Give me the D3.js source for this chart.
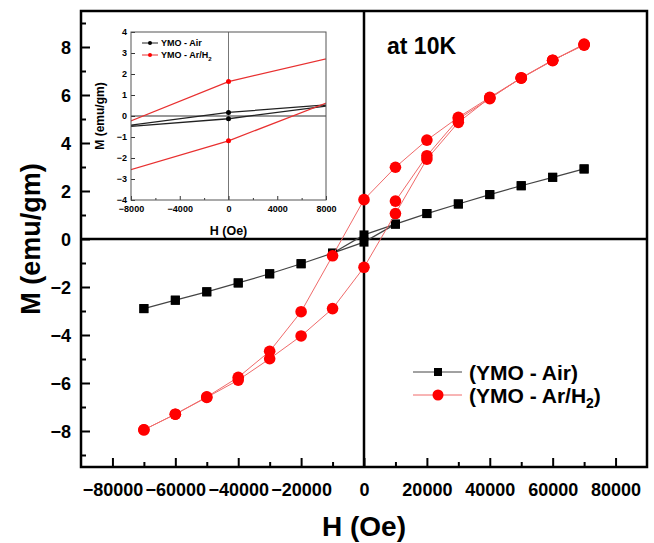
<!DOCTYPE html>
<html>
<head>
<meta charset="utf-8">
<script src="https://cdn.jsdelivr.net/npm/d3@7"></script>
<style>
  body { margin: 0; background: #fff; }
  svg text { font-family: Arial, "Liberation Sans", sans-serif; font-weight: bold; }
</style>
</head>
<body>
<div id="chart"></div>
<script>
// M-H loop data (H in Oe, M in emu/gm)
var fieldDown = [70000, 60000, 50000, 40000, 30000, 20000, 10000, 0, -10000, -20000, -30000, -40000, -50000, -60000, -70000];
var fieldUp = [-70000, -60000, -50000, -40000, -30000, -20000, -10000, 0, 10000, 20000, 30000, 40000, 50000, 60000, 70000];
var fieldVirgin = [10000, 20000, 30000, 40000, 50000, 60000, 70000];

var airDown = [2.92, 2.57, 2.22, 1.85, 1.46, 1.06, 0.62, 0.17, -0.59, -1.03, -1.45, -1.83, -2.2, -2.55, -2.9];
var airUp = [-2.9, -2.55, -2.2, -1.83, -1.45, -1.03, -0.59, -0.13, 0.62, 1.06, 1.46, 1.85, 2.22, 2.57, 2.92];

var arDown = [8.12, 7.43, 6.71, 5.9, 5.07, 4.12, 2.99, 1.64, -0.7, -3.03, -4.68, -5.76, -6.58, -7.3, -7.95];
var arUp = [-7.95, -7.3, -6.6, -5.88, -4.99, -4.04, -2.9, -1.18, 1.06, 3.33, 4.86, 5.88, 6.7, 7.45, 8.08];
var arVirgin = [1.58, 3.47, 5.0, 5.85, 6.72, 7.45, 8.1];

var xMajor = [-80000, -60000, -40000, -20000, 0, 20000, 40000, 60000, 80000];
var xMinor = [-70000, -50000, -30000, -10000, 10000, 30000, 50000, 70000];
var yMajor = [-8, -6, -4, -2, 0, 2, 4, 6, 8];
var yMinor = [-9, -7, -5, -3, -1, 1, 3, 5, 7, 9];

var insetXMajor = [-8000, -4000, 0, 4000, 8000];
var insetXMinor = [-6000, -2000, 2000, 6000];
var insetYMajor = [-4, -3, -2, -1, 0, 1, 2, 3, 4];

var seriesNames = ["(YMO - Air)", "(YMO - Ar/H", "2", ")"];

var width = 654, height = 543;
var box = {left: 81, right: 647, top: 11, bottom: 467};

var svg = d3.select("#chart").append("svg")
    .attr("width", width).attr("height", height);

var x = d3.scaleLinear().domain([-90000, 90000]).range([box.left, box.right]);
var y = d3.scaleLinear().domain([-9.5, 9.5]).range([box.bottom, box.top]);

function pts(fs, ms) { return fs.map(function (f, i) { return [f, ms[i]]; }); }

var airLoop = pts(fieldDown, airDown).concat(pts(fieldUp, airUp));
var arLoop = pts(fieldDown, arDown).concat(pts(fieldUp, arUp));
var arInit = pts(fieldVirgin, arVirgin);

// axes (ticks point inwards)
var gx = svg.append("g").attr("transform", "translate(0," + box.bottom + ")");
gx.call(d3.axisBottom(x).tickValues(xMajor).tickSize(-9).tickPadding(16).tickFormat(d3.format("d")));
gx.append("g").call(d3.axisBottom(x).tickValues(xMinor).tickSize(-5).tickFormat(""));
var gy = svg.append("g").attr("transform", "translate(" + box.left + ",0)");
gy.call(d3.axisLeft(y).tickValues(yMajor).tickSize(-9).tickPadding(10).tickFormat(d3.format("d")));
gy.append("g").call(d3.axisLeft(y).tickValues(yMinor).tickSize(-5).tickFormat(""));
svg.selectAll(".domain").remove();
svg.selectAll(".tick line").attr("stroke", "#000").attr("stroke-width", 2);
gx.selectAll(".tick text").style("font-size", "18px").attr("fill", "#000");
gy.selectAll(".tick text").style("font-size", "18px").attr("fill", "#000").attr("dy", "0.36em");

// zero lines
svg.append("line").attr("x1", box.left).attr("x2", box.right).attr("y1", y(0)).attr("y2", y(0))
    .attr("stroke", "#000").attr("stroke-width", 2.5);
svg.append("line").attr("x1", x(0)).attr("x2", x(0)).attr("y1", box.top).attr("y2", box.bottom)
    .attr("stroke", "#000").attr("stroke-width", 2.5);

// frame
svg.append("rect").attr("x", box.left).attr("y", box.top)
    .attr("width", box.right - box.left).attr("height", box.bottom - box.top)
    .attr("fill", "none").attr("stroke", "#000").attr("stroke-width", 2.5);

var line = d3.line().x(function (d) { return x(d[0]); }).y(function (d) { return y(d[1]); });

// Air series
svg.append("path").datum(airLoop).attr("d", line)
    .attr("fill", "none").attr("stroke", "#444").attr("stroke-width", 1.2);
svg.append("g").selectAll("rect").data(airLoop).enter().append("rect")
    .attr("x", function (d) { return x(d[0]) - 4.5; })
    .attr("y", function (d) { return y(d[1]) - 4.5; })
    .attr("width", 9).attr("height", 9).attr("fill", "#000");

// Ar/H2 series
[arLoop, arInit].forEach(function (s) {
    svg.append("path").datum(s).attr("d", line)
        .attr("fill", "none").attr("stroke", "#f06a6a").attr("stroke-width", 1);
});
svg.append("g").selectAll("circle").data(arLoop.concat(arInit)).enter().append("circle")
    .attr("cx", function (d) { return x(d[0]); })
    .attr("cy", function (d) { return y(d[1]); })
    .attr("r", 5.8).attr("fill", "#ff0000");

// axis titles
svg.append("text").attr("x", x(0)).attr("y", 536).attr("text-anchor", "middle")
    .style("font-size", "28px").text("H (Oe)");
svg.append("text").attr("transform", "translate(40," + y(0) + ") rotate(-90)")
    .attr("text-anchor", "middle").style("font-size", "27px").text("M (emu/gm)");

svg.append("text").attr("x", 387).attr("y", 54).style("font-size", "23px").text("at 10K");

// legend
var leg = svg.append("g");
leg.append("line").attr("x1", 413).attr("x2", 462).attr("y1", 372).attr("y2", 372)
    .attr("stroke", "#444").attr("stroke-width", 1);
leg.append("rect").attr("x", 434).attr("y", 368).attr("width", 8).attr("height", 8).attr("fill", "#000");
leg.append("text").attr("x", 469).attr("y", 380).style("font-size", "21px").text(seriesNames[0]);
leg.append("line").attr("x1", 413).attr("x2", 462).attr("y1", 395).attr("y2", 395)
    .attr("stroke", "#f06a6a").attr("stroke-width", 1);
leg.append("circle").attr("cx", 438).attr("cy", 395).attr("r", 5.5).attr("fill", "#ff0000");
var t2 = leg.append("text").attr("x", 469).attr("y", 403).style("font-size", "21px");
t2.append("tspan").text(seriesNames[1]);
t2.append("tspan").attr("dy", 5).style("font-size", "14px").text(seriesNames[2]);
t2.append("tspan").attr("dy", -5).text(seriesNames[3]);

// inset: zoom around origin
var ib = {left: 131, right: 326, top: 32, bottom: 200};
var ix = d3.scaleLinear().domain([-8000, 8000]).range([ib.left, ib.right]);
var iy = d3.scaleLinear().domain([-4, 4]).range([ib.bottom, ib.top]);
var inset = svg.append("g");
inset.append("rect").attr("x", ib.left).attr("y", ib.top)
    .attr("width", ib.right - ib.left).attr("height", ib.bottom - ib.top).attr("fill", "#fff");

svg.append("clipPath").attr("id", "insetClip").append("rect")
    .attr("x", ib.left).attr("y", ib.top)
    .attr("width", ib.right - ib.left).attr("height", ib.bottom - ib.top);

inset.append("line").attr("x1", ib.left).attr("x2", ib.right).attr("y1", iy(0)).attr("y2", iy(0))
    .attr("stroke", "#999").attr("stroke-width", 2);
inset.append("line").attr("x1", ix(0)).attr("x2", ix(0)).attr("y1", ib.top).attr("y2", ib.bottom)
    .attr("stroke", "#777").attr("stroke-width", 1);

var iline = d3.line().x(function (d) { return ix(d[0]); }).y(function (d) { return iy(d[1]); });
var ic = inset.append("g").attr("clip-path", "url(#insetClip)");
ic.append("path").datum(airLoop).attr("d", iline)
    .attr("fill", "none").attr("stroke", "#222").attr("stroke-width", 1.3);
ic.append("path").datum(arLoop).attr("d", iline)
    .attr("fill", "none").attr("stroke", "#e83030").attr("stroke-width", 1.3);
ic.selectAll("circle.a").data(airLoop).enter().append("circle")
    .attr("cx", function (d) { return ix(d[0]); }).attr("cy", function (d) { return iy(d[1]); })
    .attr("r", 2.5).attr("fill", "#000");
ic.selectAll("circle.r").data(arLoop).enter().append("circle")
    .attr("cx", function (d) { return ix(d[0]); }).attr("cy", function (d) { return iy(d[1]); })
    .attr("r", 2.5).attr("fill", "#ff0000");

var igx = inset.append("g").attr("transform", "translate(0," + ib.bottom + ")");
igx.call(d3.axisBottom(ix).tickValues(insetXMajor).tickSize(-4).tickPadding(6).tickFormat(d3.format("d")));
igx.append("g").call(d3.axisBottom(ix).tickValues(insetXMinor).tickSize(-2).tickFormat(""));
var igy = inset.append("g").attr("transform", "translate(" + ib.left + ",0)");
igy.call(d3.axisLeft(iy).tickValues(insetYMajor).tickSize(-4).tickPadding(4).tickFormat(d3.format("d")));
inset.selectAll(".domain").remove();
inset.selectAll(".tick line").attr("stroke", "#333").attr("stroke-width", 1);
inset.selectAll(".tick text").style("font-size", "9px").attr("fill", "#000");

inset.append("rect").attr("x", ib.left).attr("y", ib.top)
    .attr("width", ib.right - ib.left).attr("height", ib.bottom - ib.top)
    .attr("fill", "none").attr("stroke", "#555").attr("stroke-width", 1);

inset.append("text").attr("x", ix(0)).attr("y", 235).attr("text-anchor", "middle")
    .style("font-size", "12.5px").text("H (Oe)");
inset.append("text").attr("transform", "translate(104," + iy(0) + ") rotate(-90)")
    .attr("text-anchor", "middle").style("font-size", "12px").text("M (emu/gm)");

// inset legend
inset.append("line").attr("x1", 142).attr("x2", 158).attr("y1", 43).attr("y2", 43)
    .attr("stroke", "#222").attr("stroke-width", 1);
inset.append("circle").attr("cx", 150).attr("cy", 43).attr("r", 2).attr("fill", "#000");
inset.append("text").attr("x", 161).attr("y", 46).style("font-size", "9px").text("YMO - Air");
inset.append("line").attr("x1", 142).attr("x2", 158).attr("y1", 55).attr("y2", 55)
    .attr("stroke", "#e83030").attr("stroke-width", 1);
inset.append("circle").attr("cx", 150).attr("cy", 55).attr("r", 2).attr("fill", "#ff0000");
var it2 = inset.append("text").attr("x", 161).attr("y", 58).style("font-size", "9px");
it2.append("tspan").text("YMO - Ar/H");
it2.append("tspan").attr("dy", 3).style("font-size", "6px").text("2");
</script>
</body>
</html>
